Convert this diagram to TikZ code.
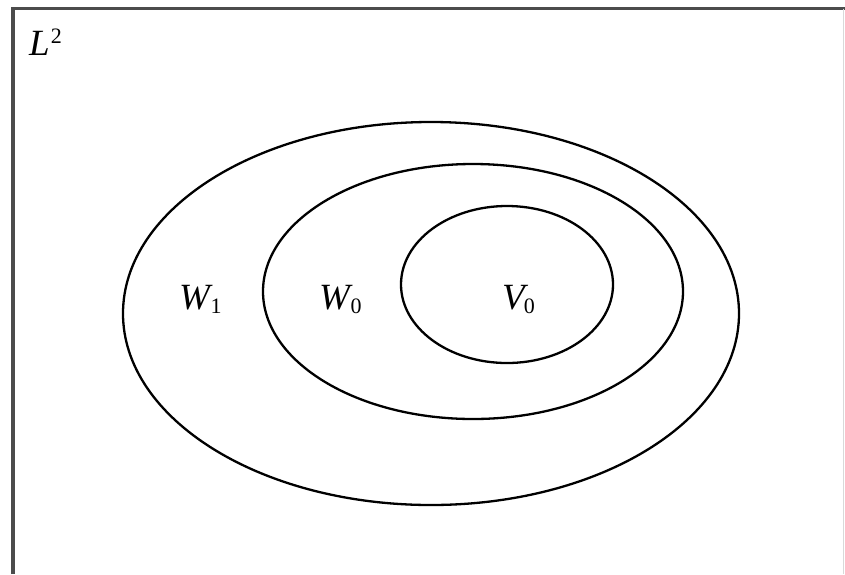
\documentclass[tikz,border=0pt]{standalone}
\usepackage{fontspec}
\setmainfont{Liberation Serif}
\newcommand{\bigit}[1]{{\fontsize{37}{40}\selectfont\itshape #1}}
\newcommand{\subsc}[1]{\raisebox{-4pt}{\fontsize{22}{24}\selectfont #1}}
\begin{document}
\begin{tikzpicture}[x=1pt,y=-1pt,
  region/.style={draw=black,line width=2.3pt},
  lbl/.style={inner sep=0pt,anchor=base west},
  frameline/.style={draw=black!70,line width=3.5pt}]
\useasboundingbox (0,0) rectangle (845,574);
\fill[white] (0,0) rectangle (845,574);
% frame
\coordinate (tl) at (13,8.5);
\coordinate (tr) at (845,8.5);
\coordinate (bl) at (13,574);
\draw[frameline] (bl) -- (tl) -- (tr);
\draw[draw=black!15,line width=1pt] (843,8.5) -- (843,574);
% ellipses
\draw[region] (431,313.5) ellipse [x radius=308, y radius=191.5];
\draw[region] (473,291.5) ellipse [x radius=210, y radius=127.5];
\draw[region] (507,284.5) ellipse [x radius=106, y radius=78.5];
% labels
\node[lbl] (L) at (29,55) {\bigit{L}\kern1pt\raisebox{12pt}{\fontsize{22}{24}\selectfont 2}};
\node[lbl] (W1) at (179,309) {\bigit{W}\kern0.5pt\subsc{1}};
\node[lbl] (W0) at (319,309) {\bigit{W}\kern0.5pt\subsc{0}};
\node[lbl] (V0) at (502,309) {\bigit{V}\kern-1pt\subsc{0}};
\end{tikzpicture}
\end{document}
